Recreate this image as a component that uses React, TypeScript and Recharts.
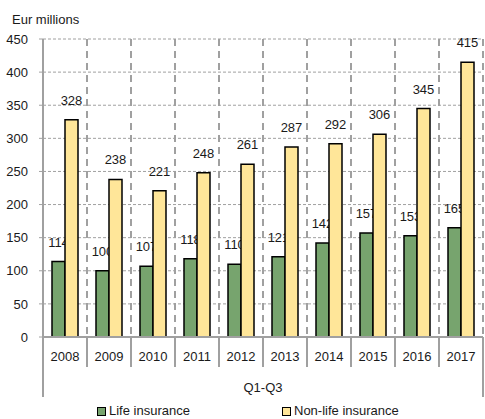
import { BarChart, Bar, XAxis, YAxis, CartesianGrid, LabelList, Rectangle } from "recharts";

const years = ["2008", "2009", "2010", "2011", "2012", "2013", "2014", "2015", "2016", "2017"];
const lifeInsurance = [114, 100, 107, 118, 110, 121, 142, 157, 153, 165];
const nonLifeInsurance = [328, 238, 221, 248, 261, 287, 292, 306, 345, 415];
const yTicks = [0, 50, 100, 150, 200, 250, 300, 350, 400, 450];
const groupLabel = "Q1-Q3";
const unitLabel = "Eur millions";

const data = years.map((year, i) => ({
  year,
  life: lifeInsurance[i],
  nonLife: nonLifeInsurance[i],
}));

const W = 485;
const H = 419;
const MARGIN = { top: 39, right: 2, left: 0, bottom: 0 };
const Y_AXIS_W = 43;
const X_AXIS_H = 82;
const plotLeft = MARGIN.left + Y_AXIS_W;
const plotWidth = W - plotLeft - MARGIN.right;
const band = plotWidth / years.length;

const FONT = '"Liberation Sans", Arial, sans-serif';
const TEXT = "#1a1a1a";
const AXIS = "#a0a0a0";
const GREEN = "#77a46e";
const YELLOW = "#ffe699";

const YearTick = (props: any) => {
  const { x, y, payload, index } = props;
  const half = band / 2;
  const last = index === years.length - 1;
  return (
    <g>
      {index === 0 && (
        <line x1={x - half} y1={y} x2={x - half} y2={y + 60} stroke={AXIS} strokeWidth={2} />
      )}
      <line x1={x + half} y1={y} x2={x + half} y2={y + (last ? 60 : 30)} stroke={AXIS} strokeWidth={2} />
      <text x={x} y={y + 24} textAnchor="middle" fontSize={13} fontFamily={FONT} fill={TEXT}>
        {payload.value}
      </text>
      {index === years.length / 2 - 1 && (
        <text x={x + half} y={y + 55} textAnchor="middle" fontSize={13} fontFamily={FONT} fill={TEXT}>
          {groupLabel}
        </text>
      )}
    </g>
  );
};

const renderTopLabel = (props: any) => {
  const { x, y, width, value } = props;
  return (
    <text x={x + width / 2} y={y - 15} textAnchor="middle" fontSize={13} fontFamily={FONT} fill={TEXT}>
      {value}
    </text>
  );
};

// life bar draws its own label so the yellow bars painted after it cover the text, as in the original
const LifeShape = (props: any) => {
  const { x, y, width, height, life } = props;
  return (
    <g>
      <text x={x + width / 2} y={y - 15} textAnchor="middle" fontSize={13} fontFamily={FONT} fill={TEXT}>
        {life}
      </text>
      <Rectangle x={x} y={y} width={width} height={height} fill={GREEN} stroke="#000" strokeWidth={1.5} />
    </g>
  );
};

const LegendItem = ({ left, color, label }: { left: number; color: string; label: string }) => (
  <div style={{ position: "absolute", left, top: 0, display: "flex", alignItems: "center", whiteSpace: "nowrap" }}>
    <div
      style={{
        width: 7,
        height: 7,
        background: color,
        border: "1.5px solid #000",
        marginRight: 3,
      }}
    />
    <span>{label}</span>
  </div>
);

export default function App() {
  return (
    <div
      style={{
        position: "absolute",
        left: 0,
        top: 0,
        width: W,
        height: H,
        background: "#fff",
        fontFamily: FONT,
        fontSize: 13,
        color: TEXT,
      }}
    >
      <div style={{ position: "absolute", left: 12, top: 12, lineHeight: "15px" }}>{unitLabel}</div>
      <BarChart width={W} height={H} data={data} margin={MARGIN} barGap={0}>
        <CartesianGrid
          horizontal={true}
          vertical={false}
          stroke={AXIS}
          strokeDasharray="3 2"
        />
        <CartesianGrid
          horizontal={false}
          vertical={true}
          stroke={AXIS}
          strokeWidth={2}
          strokeDasharray="7 5"
          verticalCoordinatesGenerator={({ offset }: any) =>
            years.map((_, i) => offset.left + ((i + 1) * offset.width) / years.length)
          }
        />
        <XAxis
          dataKey="year"
          height={X_AXIS_H}
          interval={0}
          tickSize={0}
          tickMargin={0}
          tickLine={false}
          axisLine={{ stroke: AXIS, strokeWidth: 2 }}
          tick={<YearTick />}
        />
        <YAxis
          width={Y_AXIS_W}
          domain={[0, 450]}
          ticks={yTicks}
          interval={0}
          tickSize={4}
          tickMargin={11}
          axisLine={{ stroke: AXIS, strokeWidth: 2 }}
          tickLine={{ stroke: AXIS, strokeWidth: 1 }}
          tick={{ fill: TEXT, fontSize: 13, fontFamily: FONT }}
        />
        <Bar
          dataKey="life"
          fill={GREEN}
          stroke="#000"
          strokeWidth={1.5}
          barSize={13}
          isAnimationActive={false}
          shape={<LifeShape />}
        />
        <Bar dataKey="nonLife" fill={YELLOW} stroke="#000" strokeWidth={1.5} barSize={13} isAnimationActive={false}>
          <LabelList dataKey="nonLife" content={renderTopLabel} />
        </Bar>
      </BarChart>
      <div style={{ position: "absolute", left: 0, top: 403, width: W, height: 16, lineHeight: "16px" }}>
        <LegendItem left={97} color={GREEN} label="Life insurance" />
        <LegendItem left={282} color={YELLOW} label="Non-life insurance" />
      </div>
    </div>
  );
}
